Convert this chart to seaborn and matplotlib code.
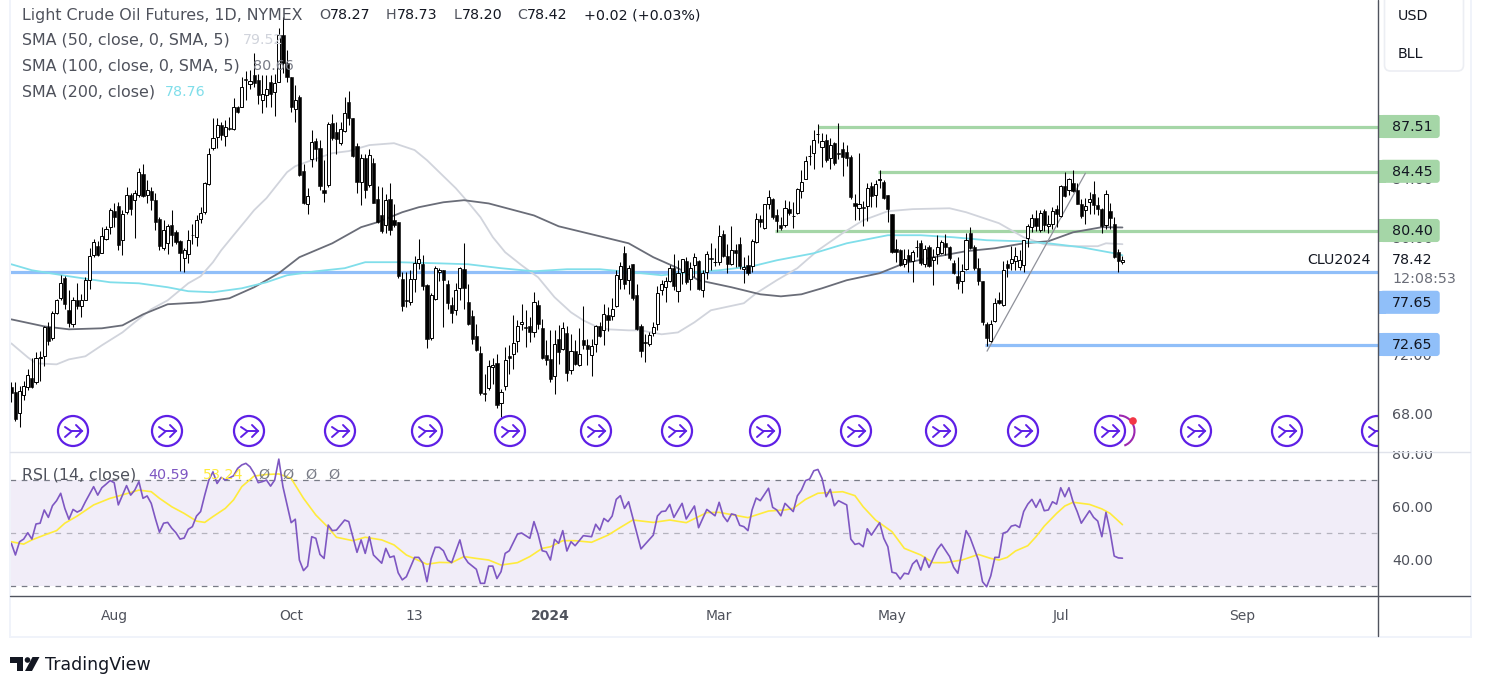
import seaborn as sns
import numpy as np
import matplotlib.pyplot as plt
from matplotlib.patches import Circle, Rectangle, FancyBboxPatch, Polygon, Arc

# candles, one value per session
opens = [69.8,69.46,68.0,69.23,69.75,70.39,70.1,71.76,71.87,73.9,
    73.13,74.81,75.84,77.21,75.04,74.04,75.73,75.29,75.73,77.05,
    78.8,79.37,78.92,79.9,80.7,81.77,82.11,79.83,81.72,82.86,
    82.56,82.86,84.3,82.9,83.14,82.56,81.27,79.26,79.6,80.81,
    80.35,79.74,78.58,78.87,80.17,80.0,81.27,81.72,83.61,86.09,
    86.8,87.62,86.89,87.48,87.35,88.85,88.89,90.8,90.44,91.06,
    90.72,89.39,89.67,90.6,89.92,90.6,93.79,91.85,90.9,88.71,
    89.53,84.48,82.29,85.3,86.55,86.05,83.25,83.54,87.8,87.16,
    86.44,87.26,89.19,88.1,86.2,83.77,85.43,83.54,85.09,82.63,
    81.54,80.86,82.63,81.2,81.02,77.17,75.73,75.57,77.12,78.24,
    78.19,76.76,73.12,75.81,77.63,77.79,76.83,75.35,75.05,76.56,
    77.81,75.6,74.6,73.28,72.12,69.34,69.7,71.14,71.43,68.68,
    69.84,71.91,72.05,72.91,74.1,73.87,73.92,73.55,75.35,73.82,
    71.98,71.71,70.5,73.07,72.37,73.48,70.91,72.23,71.3,73.0,
    72.66,71.98,72.73,73.94,73.64,74.71,74.6,75.3,77.17,78.95,
    77.06,78.15,76.03,73.92,72.82,72.73,73.44,74.1,76.37,76.6,
    77.01,77.88,76.33,77.63,78.4,77.17,78.08,78.4,76.42,77.63,
    78.56,78.29,78.31,80.18,78.74,78.2,79.15,79.56,77.81,78.13,
    78.04,79.68,81.23,80.59,82.25,82.59,81.54,80.86,80.84,81.95,
    81.43,81.68,83.16,84.0,85.52,85.71,87.03,86.16,86.66,85.37,
    86.39,85.71,85.98,85.8,85.48,82.34,82.02,82.06,82.13,83.47,
    82.88,83.93,83.75,82.86,81.56,79.17,79.1,78.15,78.76,78.37,
    79.31,79.63,78.19,79.31,78.47,78.83,78.92,79.63,79.33,78.26,
    77.33,77.01,77.8,80.31,79.33,77.92,76.99,74.05,72.89,74.25,
    75.69,75.35,78.15,78.24,78.37,77.97,78.12,79.95,80.7,81.33,
    80.47,81.75,80.77,80.88,81.9,81.45,83.48,83.2,83.66,83.2,
    82.29,81.84,82.4,82.91,82.22,81.95,80.81,81.77,80.92,79.01,78.27]
highs = [70.1,70.1,69.87,70.2,71.0,71.76,72.15,72.26,73.97,74.2,
    74.93,75.8,77.39,77.32,76.36,75.91,76.89,76.14,77.28,79.26,
    79.9,79.74,80.7,80.74,82.02,82.34,82.41,81.84,83.39,82.98,
    83.2,84.69,84.98,83.89,83.43,82.98,81.38,81.15,80.92,81.84,
    80.47,79.83,79.28,80.5,80.92,81.5,82.06,83.77,86.05,88.16,
    88.16,87.87,87.98,88.21,89.46,88.94,90.9,91.35,91.4,92.54,
    91.13,91.06,91.06,91.06,91.13,94.25,95.04,92.76,90.9,90.37,
    89.69,84.96,83.32,87.3,86.73,86.6,85.25,87.87,88.39,87.87,
    87.87,89.58,89.97,88.1,86.39,85.66,85.66,85.98,85.37,83.48,
    83.43,82.93,83.66,82.29,81.04,77.62,77.62,77.74,78.69,79.86,
    78.81,76.83,76.21,78.0,77.92,77.79,77.1,75.92,76.88,77.97,
    79.63,76.79,75.05,74.1,72.6,70.68,71.64,71.78,72.0,69.66,
    72.5,72.62,74.67,74.33,75.42,75.01,74.55,76.24,75.69,74.44,
    73.0,73.64,73.69,73.98,74.21,73.94,73.42,72.96,73.82,75.28,
    73.07,73.07,73.98,74.21,75.46,75.24,75.87,77.74,78.31,79.38,
    78.13,78.2,76.79,74.1,73.42,73.53,74.21,76.65,77.06,77.29,
    78.08,78.83,78.42,78.54,78.65,78.31,78.95,78.42,77.74,79.03,
    79.63,79.29,80.86,80.47,79.56,80.75,79.56,80.02,78.65,78.77,
    79.9,81.68,81.5,82.29,83.2,82.7,81.95,81.38,82.52,82.48,
    82.41,83.32,84.57,85.52,86.28,87.3,87.69,87.12,87.07,86.73,
    86.5,87.76,86.5,86.28,85.59,82.97,85.71,82.45,83.66,83.77,
    83.89,84.57,83.89,82.86,81.61,79.9,79.22,79.17,79.22,79.1,
    79.83,79.79,79.44,79.44,79.22,80.13,79.83,80.2,79.38,78.42,
    78.65,78.19,80.29,80.7,79.44,78.6,76.99,74.21,74.32,75.87,
    76.26,78.35,78.47,79.4,79.33,79.1,79.83,80.88,81.61,81.84,
    81.84,81.95,81.49,82.06,82.18,83.54,84.45,84.04,84.57,83.66,
    82.59,82.7,83.09,83.82,82.75,82.02,83.2,82.34,81.38,79.17,78.73]
lows = [68.73,67.47,67.06,68.89,69.57,69.71,69.98,70.2,71.2,72.67,
    72.99,74.77,75.73,75.11,73.86,73.86,75.11,74.54,75.68,76.45,
    78.64,78.69,78.92,79.83,80.24,80.7,79.1,78.8,81.61,81.49,
    79.94,82.75,82.75,82.34,81.88,80.47,79.15,79.1,78.87,79.37,
    79.56,77.69,77.62,78.24,79.56,79.4,80.97,81.61,83.55,85.93,
    86.05,86.62,86.25,87.3,87.3,88.44,88.85,89.35,90.08,90.26,
    89.08,88.48,88.89,88.9,88.26,90.6,91.17,90.6,88.55,87.87,
    84.2,82.29,81.61,84.8,85.2,83.2,82.4,83.43,86.6,85.7,
    86.3,87.2,87.64,85.48,83.02,82.22,82.68,83.43,82.36,80.97,
    80.31,80.29,80.17,80.7,77.24,74.96,75.23,75.35,76.26,77.85,
    76.37,72.46,73.0,75.69,77.01,73.87,75.1,74.14,74.67,75.69,
    75.12,73.98,72.73,72.23,69.2,68.82,69.54,70.0,68.36,67.72,
    69.59,70.68,71.0,72.16,73.64,72.5,72.85,73.19,73.76,71.71,
    71.25,70.11,69.32,71.37,72.28,70.18,70.68,71.25,71.18,72.39,
    71.25,70.52,72.16,73.19,72.62,73.6,74.33,75.24,76.49,76.49,
    76.15,75.69,73.69,71.82,71.48,72.55,73.28,73.69,76.03,75.58,
    76.94,76.42,75.58,76.83,76.83,76.42,77.29,76.37,75.92,77.17,
    77.74,78.01,78.08,78.65,77.56,78.08,77.97,77.85,76.88,77.4,
    77.63,79.63,80.7,80.54,81.91,81.27,80.36,80.52,80.7,81.5,
    80.59,81.57,82.7,84.0,84.91,84.68,86.44,84.8,85.14,84.64,
    84.91,85.3,84.16,84.86,82.63,81.15,81.2,80.74,81.11,82.06,
    82.06,83.38,82.59,81.04,78.92,78.3,78.01,77.97,77.62,76.94,
    78.65,78.08,77.97,77.97,76.71,78.19,78.83,78.76,78.47,77.51,
    76.48,76.19,77.74,79.22,77.74,76.71,73.98,72.55,72.84,74.21,
    75.46,75.28,77.28,77.74,77.74,77.78,77.62,79.33,80.36,80.42,
    80.36,80.42,80.29,80.58,80.7,81.38,82.75,82.86,83.09,82.25,
    81.33,80.88,81.61,81.61,81.5,80.29,80.58,80.58,78.6,77.62,78.2]
closes = [69.34,67.59,69.48,69.82,70.6,69.75,71.76,71.8,73.9,72.94,
    74.84,75.73,76.89,75.45,74.13,75.68,75.29,75.68,77.09,78.73,
    79.67,78.76,80.1,80.58,81.84,81.38,79.44,81.61,82.86,81.9,
    82.98,84.46,82.79,83.25,82.52,81.04,79.37,80.47,80.74,80.13,
    79.67,78.92,79.1,79.83,80.13,81.2,81.68,83.7,85.66,86.73,
    87.62,86.94,87.53,87.35,88.89,88.53,90.21,90.7,90.67,90.53,
    89.69,89.74,90.08,89.74,90.49,93.79,91.85,90.9,88.89,89.35,
    84.27,82.34,82.84,86.46,86.0,83.5,82.98,87.75,86.73,86.71,
    87.35,88.44,88.14,85.55,83.77,85.43,83.25,85.59,82.36,81.04,
    80.4,82.52,80.47,80.81,77.35,75.3,75.64,77.17,78.26,78.53,
    76.67,73.07,76.08,77.86,77.79,77.1,75.51,74.85,76.42,77.86,
    76.56,74.05,73.07,72.32,69.36,69.29,71.23,71.3,68.56,69.43,
    71.59,71.75,72.8,73.94,74.21,73.82,73.53,75.6,74.1,71.77,
    71.64,70.34,72.73,72.16,73.82,70.75,72.23,71.37,72.05,72.66,
    72.37,72.57,73.94,73.26,74.78,74.37,75.12,77.4,78.04,76.83,
    77.86,75.87,73.76,72.23,72.78,73.35,73.89,76.22,76.83,76.99,
    77.92,76.65,77.58,78.49,76.94,77.92,78.65,76.49,77.58,78.88,
    78.51,78.31,80.06,78.72,78.2,79.15,78.93,78.04,77.97,77.58,
    79.77,81.25,81.04,82.25,82.75,81.34,81.11,80.59,82.02,81.68,
    81.45,83.27,83.77,85.2,85.53,86.66,87.03,86.55,85.25,86.28,
    85.07,85.69,85.48,85.43,82.75,82.13,82.29,81.99,83.38,82.82,
    83.61,83.95,82.66,81.93,78.99,78.99,78.08,78.53,78.37,78.99,
    79.31,78.24,79.17,78.03,78.65,79.31,79.67,79.33,78.6,77.56,
    76.87,77.69,79.83,79.26,77.92,77.01,74.21,73.14,74.09,75.53,
    75.53,77.78,77.9,78.53,78.69,78.47,79.79,80.74,81.33,80.74,
    81.68,80.81,80.93,81.79,81.56,83.48,82.82,83.95,83.16,82.29,
    81.43,82.15,82.63,82.2,81.95,80.74,82.91,81.33,78.65,78.37,78.42]

sma50_pos = [0,4,6,11,14,18,22,27,30,34,38,43,46,49,51,54,57,59,62,67,69,73,78,82,87,93,98,101,104,108,111,114,117,120,124,128,132,136,139,142,145,150,153,158,162,166,170,178,181,186,191,196,202,207,213,219,228,232,240,246,251,257,264,266,270]
sma50_vals = [72.75,71.80,71.39,71.32,71.66,71.87,72.62,73.50,74.19,75.08,75.69,76.85,77.33,78.29,79.1,80.13,81.15,81.84,82.66,84.43,84.84,85.25,85.73,85.87,86.28,86.41,85.94,85.25,84.43,83.34,82.38,81.36,80.0,78.97,78.08,77.26,75.9,74.87,74.32,73.92,73.71,73.64,73.64,73.37,73.5,74.19,75.01,75.49,76.17,77.06,77.88,79.1,80.27,81.15,81.77,81.91,81.97,81.7,80.95,79.99,79.51,79.38,79.38,79.58,79.52]
sma100_pos = [0,8,14,22,27,32,38,46,53,59,65,70,78,85,89,95,99,105,110,116,127,133,143,150,156,162,167,175,182,187,192,197,203,211,217,224,232,239,246,252,258,265,270]
sma100_vals = [74.39,73.91,73.71,73.78,73.98,74.73,75.42,75.55,75.83,76.58,77.54,78.63,79.58,80.68,81.02,81.7,82.04,82.38,82.52,82.3,81.48,80.74,80.06,79.58,78.63,77.88,77.06,76.58,76.1,75.96,76.1,76.51,77.06,77.54,78.22,78.63,79.04,79.24,79.58,79.72,80.33,80.68,80.66]
sma200_pos = [0,5,14,24,31,38,43,49,56,62,67,74,81,86,94,103,111,119,127,135,143,151,158,163,172,180,186,195,203,213,221,229,237,245,252,260,268,270]
sma200_vals = [78.15,77.74,77.33,76.92,76.85,76.58,76.31,76.24,76.51,76.92,77.4,77.67,77.88,78.29,78.29,78.22,78.15,77.88,77.67,77.81,77.81,77.6,77.4,77.54,77.74,78.01,78.42,78.9,79.58,80.13,80.13,79.99,79.79,79.72,79.58,79.31,78.9,78.76]

rsi_pos = [0,1,2,3,4,5,6,7,8,9,10,11,12,13,14,15,16,17,18,20,21,22,23,24,25,26,28,29,30,31,32,33,34,35,36,37,38,39,40,41,42,43,44,45,46,47,48,49,50,51,52,54,55,56,57,58,59,60,61,62,63,64,65,66,68,69,70,71,72,73,74,75,76,77,78,79,81,82,84,85,86,87,88,90,91,92,93,94,95,96,98,99,100,101,102,103,104,105,106,107,109,110,111,113,114,115,116,117,118,
    119,120,121,123,124,126,127,128,129,130,131,132,133,134,135,136,137,139,141,142,143,144,145,146,147,148,149,150,153,156,157,158,159,160,161,163,164,166,167,169,171,172,173,174,175,176,177,178,179,180,181,182,184,185,186,187,188,190,191,192,193,194,195,196,197,198,199,200,201,203,204,205,206,207,208,209,211,212,213,214,215,216,217,218,219,220,221,222,223,225,226,228,229,230,232,233,235,236,237,238,239,240,
    241,242,243,244,245,246,247,248,249,250,251,252,253,254,255,256,257,258,259,260,262,263,264,265,266,267,268,269,270]
rsi_vals = [46.2,41.8,46.8,47.8,50.2,47.8,53.5,53.8,58.8,56,60.4,62.3,65.1,59.4,55.3,59,58,58.8,61.9,67.6,64.4,67.2,68.5,69.9,69.1,60.7,68,64.4,66.3,69.5,63.2,64.1,61.3,55.6,50.4,53.8,54.1,51.9,50.2,47.8,48.2,51.5,52.5,56.5,58.2,64.4,70.1,73.2,68.8,71.1,70.1,71.7,74.5,75.8,76.4,75.1,72.6,69.1,69.5,70.1,67.8,70.1,78,67.6,54,55.3,39.9,35.9,37.6,48.7,48.1,42,40.5,53.1,51,51.2,55,54.4,42.8,47.5,42.4,48.7,41.8,38.7,44.3,40.9,41.4,35.1,32.4,33.6,40.9,40.9,38.7,31.7,40.3,44.7,44.7,43.4,39.9,38.9,47.5,41.2,38.9,36.4,31.1,31.1,37.6,37.6,32.9,
    35.5,42.4,43.4,49.7,50.1,48.1,54.4,49.7,43.4,43,39.9,47.7,46.2,51,43.3,46.8,45.3,49.1,48.7,53.4,51.2,55.6,54.4,56.5,62.8,64.2,59.4,61.9,44.1,49.3,56.5,58.2,58.4,60.9,56,61.3,55.4,60.3,52.1,59,56.6,61.7,56.5,54.4,57.3,56.9,53,52.5,51,58.8,63.3,62.3,67,59.8,58.8,56.6,61.3,58.2,64.1,66.3,69.9,70.5,73.6,74.1,70.7,63.8,66.6,60.4,62.3,60.7,47.8,45.8,46.2,44.9,51.7,49.3,54,48.1,44.9,35.3,34.9,32.7,34.9,34.6,38.4,39.9,36.1,40.9,37.1,43.9,45.9,41.2,37.1,34.9,51,48.3,39.9,31.7,29.8,33.9,40.9,40.9,
    50,50.6,52.7,53.1,52.2,58.2,61,62.8,59.8,62.8,58.5,58.8,61.9,61,67.2,63.8,67.2,61.9,58.2,53.8,58.5,56,54.6,48.7,57.9,50.6,41.4,40.7,40.59]
rsi_ma_pos = [0,3,5,8,11,13,16,20,24,25,29,31,34,36,39,42,45,47,49,52,54,56,59,62,65,68,71,74,77,79,83,86,90,93,96,101,104,107,110,113,116,
    119,123,126,129,131,134,137,141,145,148,151,156,160,164,169,172,179,184,188,190,193,196,202,205,207,210,214,217,221,224,227,231,235,238,240,
    242,244,247,249,251,254,256,258,262,265,267,270]
rsi_ma_vals = [46.8,45.9,47.5,49.3,51,53.8,56.5,60.7,63.2,63.6,65.4,66.3,65.7,63.2,60,57.5,54.6,54.1,56.3,59.4,62.6,67.6,71.6,72.2,72.4,70.7,63.2,56.9,52.2,48.5,47.2,48.5,47.5,45.6,41.8,38.3,39,38.9,41.2,40.5,39.9,
    38,38.9,41.2,44.3,44.9,47.2,47.2,46.6,49.3,52.2,55,54.1,55,54,57.8,57.9,55.9,58.4,58.8,59.4,62.8,65.1,65.7,64.2,60,55,50.6,44.3,41.8,38.9,38.9,39.9,42,40.5,39.9,
    40.9,43.3,45.3,48.7,52.7,57.5,60.3,61.7,60.9,59.2,57.5,53.24]

# drawn levels: price and the session each line starts at
green_levels = [87.51, 84.45, 80.40]
green_starts = [196, 210.6, 185.6]
blue_levels = [77.65, 72.65]
blue_starts = [-0.3, 236.6]
trend_pos = [237.1, 261]
trend_vals = [72.22, 84.36]

price_ticks = [88, 84, 80, 76, 72, 68]
rsi_ticks = [80, 60, 40]
time_pos = [25, 68, 98, 131, 172, 214, 255, 299]
time_labels = ['Aug', 'Oct', '13', '2024', 'Mar', 'May', 'Jul', 'Sep']

W, H = 1486, 691
sns.set_theme(style='white')
plt.rcParams['font.family'] = ['DejaVu Sans']
TXT = '#4f525c'
FS = 10.3
FS_NAME = 11.4

fig = plt.figure(figsize=(W / 100, H / 100), dpi=100, facecolor='white')
ax = fig.add_axes([10 / W, 1 - 451.7 / H, 1368 / W, 451.7 / H])
ax_rsi = fig.add_axes([10 / W, 1 - 596.3 / H, 1368 / W, 144.6 / H])
xlim = (-0.32, 332.1)

# levels sit under the candles
for lev, st in zip(green_levels, green_starts):
    ax.hlines(lev, st, xlim[1], color='#a5d6a7', lw=2.3, zorder=1)
for lev, st in zip(blue_levels, blue_starts):
    ax.hlines(lev, st, xlim[1], color='#90bff9', lw=2.3, zorder=1)

sns.lineplot(x=sma50_pos, y=sma50_vals, ax=ax, color='#d1d4dc', lw=1.3, estimator=None, sort=False, zorder=2)
sns.lineplot(x=sma100_pos, y=sma100_vals, ax=ax, color='#6a6d78', lw=1.3, estimator=None, sort=False, zorder=2)
sns.lineplot(x=sma200_pos, y=sma200_vals, ax=ax, color='#80deea', lw=1.3, estimator=None, sort=False, zorder=2)
sns.lineplot(x=trend_pos, y=trend_vals, ax=ax, color='#8f919a', lw=0.9, estimator=None, sort=False, zorder=2)

# candles
pos = np.arange(len(opens))
o, h, l, c = map(np.array, (opens, highs, lows, closes))
up = c >= o
ax.vlines(pos, l, h, color='black', lw=0.75, zorder=3)
ax.bar(pos[up], (c - o)[up], bottom=o[up], width=0.76, color='white', edgecolor='black', lw=0.7, zorder=4)
ax.bar(pos[~up], (o - c)[~up], bottom=c[~up], width=0.78, color='black', edgecolor='black', lw=0.4, zorder=4)

ax.set_xlim(xlim)
ax.set_ylim(65.36, 96.18)
ax.set_xticks([])
ax.yaxis.tick_right()
ax.set_yticks(price_ticks)
ax.set_yticklabels(['%.2f' % t for t in price_ticks], fontsize=FS, color=TXT)
ax.tick_params(axis='y', length=0, pad=10)
ax.patch.set_alpha(0)
sns.despine(ax=ax, left=True, bottom=True, top=True, right=True)

# RSI pane
ax_rsi.axhspan(30, 70, color='#7e57c2', alpha=0.1, lw=0)
for lev, a in zip([70, 50, 30], [1, 0.5, 1]):
    ax_rsi.axhline(lev, color='#787b86', lw=0.9, ls=(0, (4.5, 4.5)), alpha=a)
sns.lineplot(x=rsi_ma_pos, y=rsi_ma_vals, ax=ax_rsi, color='#ffeb3b', lw=1.2, estimator=None, sort=False)
sns.lineplot(x=rsi_pos, y=rsi_vals, ax=ax_rsi, color='#7e57c2', lw=1.2, estimator=None, sort=False)
ax_rsi.set_xlim(xlim)
ax_rsi.set_ylim(26.2, 80.8)
ax_rsi.yaxis.tick_right()
ax_rsi.set_yticks(rsi_ticks)
ax_rsi.set_yticklabels(['%.2f' % t for t in rsi_ticks], fontsize=FS, color=TXT)
ax_rsi.set_xticks(time_pos)
ax_rsi.set_xticklabels(time_labels, fontsize=10, color=TXT)
ax_rsi.get_xticklabels()[3].set_fontweight('bold')
ax_rsi.tick_params(axis='y', length=0, pad=10)
ax_rsi.tick_params(axis='x', length=0, pad=9.5)
ax_rsi.patch.set_alpha(0)
sns.despine(ax=ax_rsi, left=True, bottom=True, top=True, right=True)

# everything else sits on a pixel-sized layer above the panes
ov = fig.add_axes([0, 0, 1, 1], zorder=10)
ov.set_xlim(0, W)
ov.set_ylim(H, 0)
ov.axis('off')
ov.patch.set_alpha(0)

# frame and pane lines
ov.add_patch(Rectangle((1379, 438), 90, 13, color='white', lw=0))
for x, y, w, hh in [(9, 0, 2, 638), (1470, 0, 2, 638), (9, 636, 1463, 2)]:
    ov.add_patch(Rectangle((x, y), w, hh, color='#f0f3fa', lw=0))
ov.plot([10, 1470], [451.7, 451.7], color='#e0e3eb', lw=1)
ov.plot([10, 1470], [596.3, 596.3], color='#50535e', lw=1)
ov.plot([1378, 1378], [0, 636], color='#50535e', lw=1)

# event icons along the bottom of the price pane
icon_x = [73, 167, 249, 340, 427, 510, 596, 677, 765, 856, 941, 1023, 1110, 1196, 1287, 1377]
clip = Rectangle((10, 0), 1368, 451, transform=ov.transData)
arc = Arc((1119, 431), 31, 31, theta1=-90, theta2=70, color='#9c27b0', lw=1.5)
ov.add_patch(arc)
ov.add_patch(Circle((1133, 421), 3.8, color='#f23645', lw=0))
for x in icon_x:
    ic = Circle((x, 431), 15, fc='white', ec='#5e1fe6', lw=1.6, alpha=1)
    ov.add_patch(ic)
    ic.set_clip_path(clip)
    for xs, ys in [([x - 8, x - 2, x + 9], [427, 431, 431]),
                   ([x + 3, x + 9, x + 3], [425, 431, 437]),
                   ([x - 8, x - 1], [437, 431])]:
        ln, = ov.plot(xs, ys, color='#5e1fe6', lw=1.4, solid_joinstyle='miter')
        ln.set_clip_path(clip)

# price labels on the scale
label_text = ['87.51', '84.45', '80.40', '77.65', '72.65']
label_y = [126.5, 171.3, 230.5, 302.3, 344.5]
label_col = ['#a5d6a7', '#a5d6a7', '#a5d6a7', '#90bff9', '#90bff9']
for t, y, col in zip(label_text, label_y, label_col):
    ov.add_patch(FancyBboxPatch((1381, y - 10.3), 57.5, 20.6, boxstyle='round,pad=0,rounding_size=2', fc=col, ec=col, lw=1.8))
    ov.add_patch(Rectangle((1378, y - 11.3), 8, 22.6, color=col, lw=0))
    ov.text(1392, y + 0.5, t, fontsize=FS, color='#131722', va='center')

# last price and contract tag
ov.add_patch(Rectangle((1301, 248), 76.5, 22.2, color='white', lw=0))
ov.add_patch(Rectangle((1379, 248), 70, 40, color='white', lw=0))
ov.text(1307, 260, 'CLU2024', fontsize=FS, color='#131722', va='center')
ov.text(1392, 260, '78.42', fontsize=FS, color='#131722', va='center')
ov.text(1392, 279, '12:08:53', fontsize=FS, color='#6a6d78', va='center')

# currency and unit box
ov.add_patch(FancyBboxPatch((1384.5, -6), 79, 77, boxstyle='round,pad=0,rounding_size=6', fc='white', ec='#eceef3', lw=1.2))
ov.text(1398, 16, 'USD', fontsize=FS, color='#131722', va='center')
ov.text(1398, 54, 'BLL', fontsize=FS, color='#131722', va='center')

# header lines
ov.text(22, 15, 'Light Crude Oil Futures, 1D, NYMEX', fontsize=FS_NAME, color=TXT, va='center')
for x, lab, val in [(319, 'O', '78.27'), (386, 'H', '78.73'), (454, 'L', '78.20'), (517, 'C', '78.42')]:
    t = ov.text(x, 15, lab, fontsize=FS, color=TXT, va='center')
    ov.annotate(val, xy=(1, 0.5), xycoords=t, va='center', fontsize=FS, color='#131722')
ov.text(584, 15, '+0.02 (+0.03%)', fontsize=FS, color='#131722', va='center')
for y, name, x, val, col in [(40, 'SMA (50, close, 0, SMA, 5)', 243, '79.52', '#d1d4dc'),
                             (66, 'SMA (100, close, 0, SMA, 5)', 253, '80.66', '#787b86'),
                             (92, 'SMA (200, close)', 165, '78.76', '#80deea')]:
    ov.text(22, y, name, fontsize=FS_NAME, color=TXT, va='center')
    ov.text(x, y, val, fontsize=FS, color=col, va='center')
ov.text(22, 475, 'RSI (14, close)', fontsize=FS_NAME, color=TXT, va='center')
ov.text(148, 475, '40.59', fontsize=FS, color='#7e57c2', va='center')
ov.text(203, 475, '53.24', fontsize=FS, color='#ffeb3b', va='center')
for x in [258, 282, 305, 328]:
    ov.text(x, 475, '\u00d8', fontsize=FS, color='#787b86', va='center')

# TradingView mark
ov.add_patch(Polygon([(10, 657), (23, 657), (23, 671), (17, 671), (17, 663), (10, 663)], color='#131722', lw=0))
ov.add_patch(Circle((27.5, 660), 2.8, color='#131722', lw=0))
ov.add_patch(Polygon([(32.5, 657), (39.5, 657), (32, 671), (25, 671)], color='#131722', lw=0))
ov.text(45, 665, 'TradingView', fontsize=12.5, color='#131722', va='center')

fig.savefig('out.png', dpi=100)
